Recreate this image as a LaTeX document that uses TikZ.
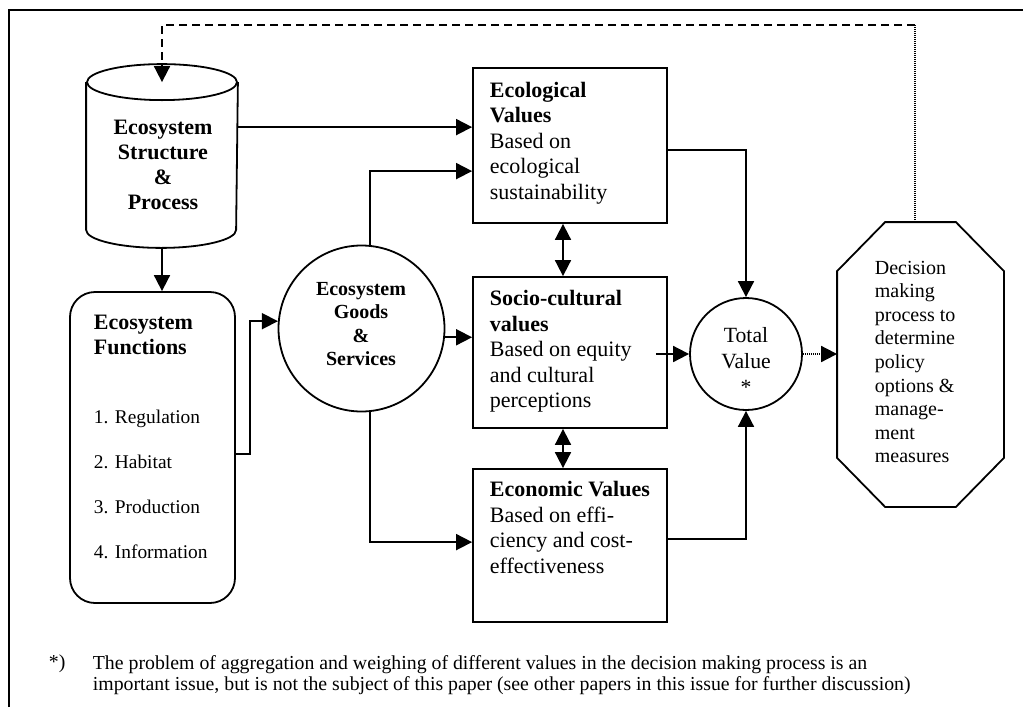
\documentclass[tikz,border=0pt]{standalone}
\usepackage{fontspec}
\setmainfont{Liberation Serif}
\usetikzlibrary{arrows.meta,calc}
\begin{document}
\begin{tikzpicture}[x=0.5pt,y=-0.5pt, line width=0.9pt,
  tip/.tip={Triangle[length=8pt,width=8pt]},
  arr/.style={-tip},
  darr/.style={tip-tip},
  vbox/.style={draw, inner sep=0, minimum width=97pt},
  boxtxt/.style={font=\fontsize{11}{12.75}\selectfont, align=left, anchor=west, inner sep=0},
  titletxt/.style={font=\bfseries\fontsize{11}{12.5}\selectfont, inner sep=0},
  itemtxt/.style={font=\fontsize{9.7}{11}\selectfont, anchor=base west, inner sep=0},
  gstxt/.style={font=\bfseries\fontsize{10}{11.65}\selectfont, align=center, inner sep=0},
  tvtxt/.style={font=\fontsize{10.85}{13}\selectfont, align=center, inner sep=0},
  dmtxt/.style={font=\fontsize{10}{11.8}\selectfont, align=left, anchor=west, inner sep=0},
  foottxt/.style={font=\fontsize{9.9}{10.5}\selectfont, align=left, anchor=west, inner sep=0},
  dashline/.style={dash pattern=on 4pt off 2.5pt},
  dotline/.style={line width=0.8pt, dash pattern=on 0.5pt off 0.5pt}
]
\useasboundingbox (0,0) rectangle (1023,707);
% frame
\draw (9,707) -- (9,10) -- (1023,10);

% cylinder
\node[inner sep=0, minimum width=75pt, minimum height=73pt] (esp) at (162,156) {};
\draw (esp.north) ellipse [x radius=37.5pt, y radius=9pt];
\draw (esp.north west) -- (esp.south west)
      arc[start angle=180, end angle=360, x radius=37.5pt, y radius=9pt]
      -- (esp.north east);
\coordinate (espbot) at ($(esp.south)+(0,18)$);
\node[titletxt, align=center] (espt) at (163,164.5) {Ecosystem\\Structure\\\&\\Process};

% ecosystem functions
\node[draw, rounded corners=12.5pt, minimum width=82.5pt, minimum height=155.5pt, inner sep=0] (ef) at (152.5,447.5) {};
\node[titletxt, align=left, anchor=west] (eft) at (93,334.5) {Ecosystem\\Functions};
\node[itemtxt] (ef1) at (93,423.5) {1. Regulation};
\node[itemtxt] (ef2) at (93,468.5) {2. Habitat};
\node[itemtxt] (ef3) at (93,513.5) {3. Production};
\node[itemtxt] (ef4) at (93,558.5) {4. Information};

% goods and services
\node[circle, draw, minimum size=83pt, inner sep=0] (gs) at (361.5,328.5) {};
\node[gstxt] (gst) at (361,324) {Ecosystem\\Goods\\\&\\Services};

% value boxes
\node[vbox, minimum height=77.5pt] (eco) at (570,145.5) {};
\node[boxtxt] (ecot) at (489,143) {\textbf{Ecological}\\\textbf{Values}\\Based on\\ecological\\sustainability};
\node[vbox, minimum height=75.5pt] (sc) at (570,352.5) {};
\node[boxtxt] (sct) at (489,351.5) {\textbf{Socio-cultural}\\\textbf{values}\\Based on equity\\and cultural\\perceptions};
\node[vbox, minimum height=76.5pt] (ec) at (570,545.5) {};
\node[boxtxt] (ect) at (489,527.5) {\textbf{Economic Values}\\Based on effi-\\ciency and cost-\\effectiveness};

% total value
\node[circle, draw, minimum size=56pt, inner sep=0] (tv) at (746,354) {};
\node[tvtxt] (tvt) at (746,361) {Total\\Value\\*};

% decision making octagon
\node[inner sep=0, minimum width=82.5pt, minimum height=141.5pt] (dm) at (920.5,364.5) {};
\draw ($(dm.north west)+(48,0)$) -- ($(dm.north east)+(-48,0)$)
   -- ($(dm.north east)+(0,49)$) -- ($(dm.south east)+(0,-49)$)
   -- ($(dm.south east)+(-48,0)$) -- ($(dm.south west)+(48,0)$)
   -- ($(dm.south west)+(0,-49)$) -- ($(dm.north west)+(0,49)$) -- cycle;
\node[dmtxt] (dmt) at (874,362) {Decision\\making\\process to\\determine\\policy\\options \&\\manage-\\ment\\measures};

% footnote
\node[foottxt] (fnstar) at (48,664) {*)};
\node[foottxt] (fnt) at (92,675) {The problem of aggregation and weighing of different values in the decision making process is an\\important issue, but is not the subject of this paper (see other papers in this issue for further discussion)};

% connectors
\coordinate (fbc) at (915,25);
\coordinate (fbl) at (162,25);
\draw[dotline] (fbc |- dm.north) -- (fbc);
\draw[dashline, arr] (fbc) -- (fbl) -- (esp.north);

\draw[arr] ($(esp.north east)+(0,45)$) -- ($(eco.north west)+(0,60)$);
\draw[arr] (espbot) -- (espbot |- ef.north);
\draw[arr] ($(ef.east)+(0,6.5)$) -- ++(14,0) |- (gs.175);
\draw[arr] (gs.84) |- ($(eco.north west)+(0,104)$);
\draw[arr] (gs.-84) |- ($(ec.north west)+(0,74)$);
\draw[arr] (gs.-6) -- (gs.-6 -| sc.west);
\draw[darr] ($(eco.south)+(-7,0)$) -- ($(sc.north)+(-7,0)$);
\draw[darr] ($(sc.south)+(-7,0)$) -- ($(ec.north)+(-7,0)$);
\draw[arr] ($(eco.east)+(0,4.5)$) -| (tv.north);
\draw[arr] ($(sc.east)+(-12,1.5)$) -- (tv.west);
\draw[arr] ($(ec.east)+(0,-6.5)$) -| (tv.south);
\draw[dotline] (tv.east) -- ($(tv.east -| dm.west)+(-15,0)$);
\draw[arr] ($(tv.east -| dm.west)+(-15,0)$) -- (tv.east -| dm.west);
\end{tikzpicture}
\end{document}
